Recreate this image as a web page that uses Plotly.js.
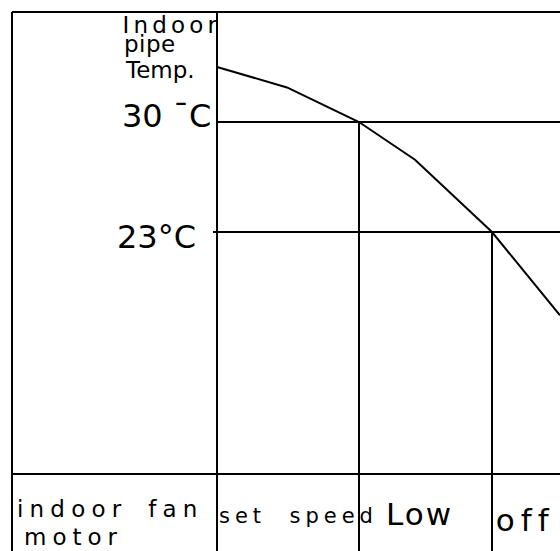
<!DOCTYPE html>
<html>
<head>
<meta charset="utf-8">
<script src="https://cdn.plot.ly/plotly-3.0.1.min.js"></script>
<style>
  html, body { margin: 0; padding: 0; background: #fff; }
  #chart { width: 560px; height: 551px; }
  .annotation[data-index="0"] .annotation-text { letter-spacing: 4.2px; }
  .annotation[data-index="1"] .annotation-text { letter-spacing: 0.5px; }
  .annotation[data-index="5"] .annotation-text { letter-spacing: 6.2px; }
  .annotation[data-index="6"] .annotation-text { letter-spacing: 6px; }
  .annotation[data-index="7"] .annotation-text { letter-spacing: 5px; }
  .annotation[data-index="8"] .annotation-text { letter-spacing: 2px; }
  .annotation[data-index="9"] .annotation-text { letter-spacing: 6px; }
</style>
</head>
<body>
<div id="chart"></div>
<script>
// ---- data ----
const timeS = [0, 70, 142, 198, 275, 343];              // arbitrary time units
const pipeTempC = [33.5, 32.2, 30.0, 27.6, 23.0, 17.7]; // indoor pipe temperature, degC
const thresholdTemps = [30, 23];                         // degC
const thresholdLabels = ["30 \u00afC", "23\u00b0C"];
const switchTimes = [142, 275];                          // where the curve crosses thresholds
const stageLabels = ["set\u00a0 speed", "Low", "off"];
const rowLabel = ["indoor\u2007fan", "motor"];
const axisLabel = ["Indoor", "pipe", "Temp."];

// ---- axis frame (pixel mapping with zero margins) ----
const W = 560, H = 551;
const xRange = [-217, 343];
const yRange = [2.70, 37.764];
const FONT = "DejaVu Sans, sans-serif";
const LW = 2;
const px = x => x / W;
const py = y => 1 - y / H;

const traces = [];
thresholdTemps.forEach((t, i) => {
  traces.push({
    x: [i === 1 ? -4 : 0, xRange[1]], y: [t, t],
    mode: "lines", line: { color: "#000", width: LW }, hoverinfo: "skip"
  });
});
switchTimes.forEach((s, i) => {
  traces.push({
    x: [s, s], y: [thresholdTemps[i], yRange[0]],
    mode: "lines", line: { color: "#000", width: LW }, hoverinfo: "skip"
  });
});
traces.push({
  x: timeS, y: pipeTempC, mode: "lines",
  line: { color: "#000", width: LW }, hoverinfo: "skip"
});

const shapes = [
  { type: "line", xref: "paper", yref: "paper", x0: px(12), x1: 1, y0: py(12), y1: py(12) },
  { type: "line", xref: "paper", yref: "paper", x0: px(12), x1: px(12), y0: py(12), y1: 0 },
  { type: "line", xref: "x", yref: "paper", x0: 0, x1: 0, y0: py(12), y1: 0 },
  { type: "line", xref: "paper", yref: "paper", x0: px(12), x1: 1, y0: py(474), y1: py(474) }
].map(s => Object.assign(s, { line: { color: "#000", width: LW } }));

// ls = CSS letter-spacing in px (text is centred in its box, so shift by half the extra width)
function ann(text, xLeft, yCenter, size, ls) {
  const shift = (ls || 0) * text.length / 2;
  return {
    text: text, xref: "paper", yref: "paper",
    x: px(xLeft + shift), y: py(yCenter), xanchor: "left", yanchor: "middle",
    showarrow: false, borderpad: 0,
    font: { family: FONT, size: size, color: "#000" }
  };
}

const annotations = [
  ann(axisLabel[0], 121, 24.8, 23, 4.2),
  ann(axisLabel[1], 123, 44.3, 23, 0.5),
  ann(axisLabel[2], 124, 69.8, 23, 0),
  ann(thresholdLabels[0], 121, 115.6, 32, 0),
  ann(thresholdLabels[1], 116, 236.6, 32, 0),
  ann(rowLabel[0], 16, 508.8, 23, 6.2),
  ann(rowLabel[1], 23, 536.8, 23, 6),
  ann(stageLabels[0], 218, 515.5, 21, 5),
  ann(stageLabels[1], 385, 514, 31, 2),
  ann(stageLabels[2], 495, 519.5, 31, 6)
];

const layout = {
  width: W, height: H,
  margin: { l: 0, r: 0, t: 0, b: 0, pad: 0 },
  paper_bgcolor: "#fff", plot_bgcolor: "#fff",
  showlegend: false,
  xaxis: { range: xRange, visible: false, fixedrange: true },
  yaxis: { range: yRange, visible: false, fixedrange: true },
  shapes: shapes,
  annotations: annotations
};

Plotly.newPlot("chart", traces, layout, { staticPlot: true, displayModeBar: false });
</script>
</body>
</html>
